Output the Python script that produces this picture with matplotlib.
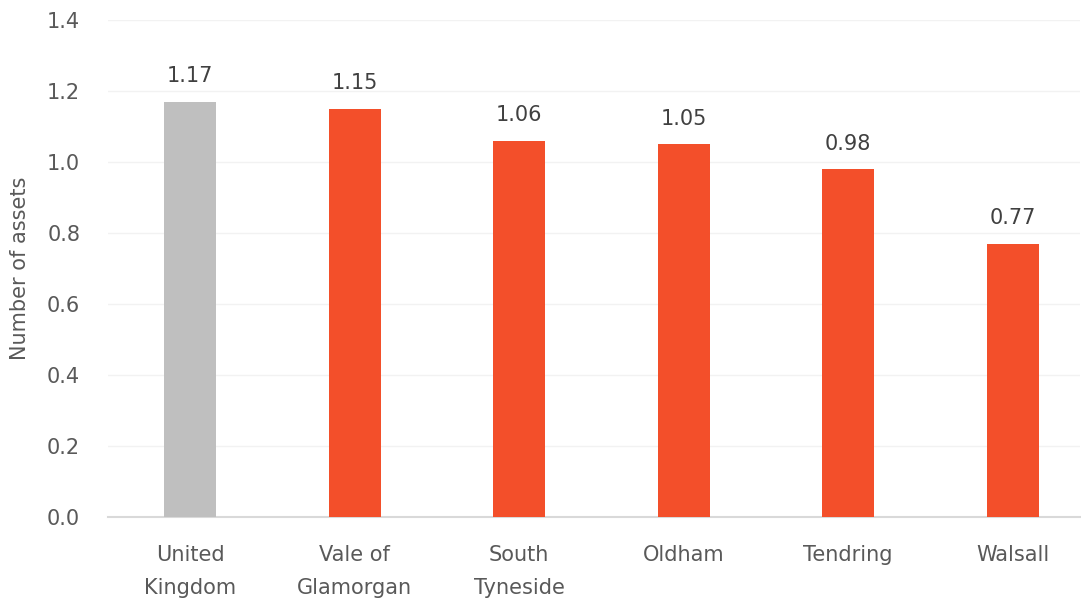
import matplotlib.pyplot as plt

# Data
categories = ["United\nKingdom", "Vale of\nGlamorgan", "South\nTyneside", "Oldham", "Tendring", "Walsall"]
values = [1.17, 1.15, 1.06, 1.05, 0.98, 0.77]
bar_colors = ["#BFBFBF", "#F34F2A", "#F34F2A", "#F34F2A", "#F34F2A", "#F34F2A"]
y_ticks = [0.0, 0.2, 0.4, 0.6, 0.8, 1.0, 1.2, 1.4]

TEXT = "#595959"
plt.rcParams['font.family'] = ['DejaVu Sans']

fig = plt.figure(figsize=(10.81, 6.07), dpi=100)
ax = fig.add_axes([108 / 1081, 90 / 607, 972 / 1081, 497 / 607])

x = range(len(categories))
bars = ax.bar(x, values, width=0.316, color=bar_colors, zorder=3)

# Value labels above bars
for rect, v in zip(bars, values):
    ax.annotate(f"{v:.2f}", (rect.get_x() + rect.get_width() / 2, v),
                xytext=(0, 11), textcoords="offset points",
                ha="center", va="bottom", fontsize=15, color="#404040")

ax.set_ylim(0, 1.4)
ax.set_xlim(-0.5, len(categories) - 0.59)
ax.set_yticks(y_ticks)
ax.set_yticklabels([f"{t:.1f}" for t in y_ticks], fontsize=15, color=TEXT)
ax.set_xticks(list(x))
ax.set_xticklabels(categories, fontsize=15, color=TEXT, linespacing=1.85)
ax.tick_params(axis="both", length=0)
ax.tick_params(axis="x", pad=20)
ax.tick_params(axis="y", pad=20)

ax.set_ylabel("Number of assets", fontsize=15, color=TEXT, labelpad=12)

# Grid and spines
ax.yaxis.grid(True, color="#F2F2F2", linewidth=1, zorder=0)
for side in ["top", "right", "left"]:
    ax.spines[side].set_visible(False)
ax.spines["bottom"].set_color("#D9D9D9")
ax.spines["bottom"].set_linewidth(1.5)

plt.savefig("out.png", dpi=100)
